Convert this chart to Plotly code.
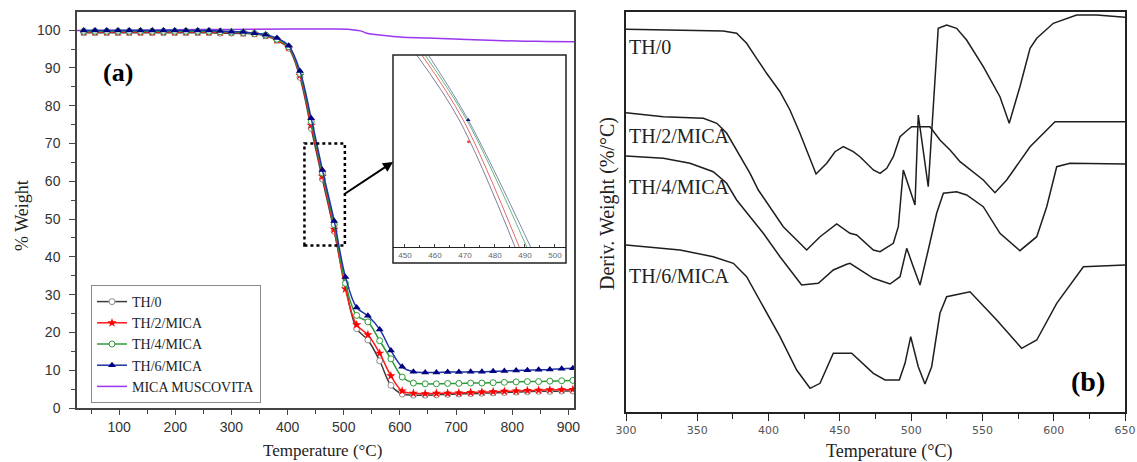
import plotly.graph_objects as go

W, H = 1137, 462
def px(x): return x / W
def py(y): return 1 - y / H

# ---------------- Panel (a): TGA ----------------
temp_a = [37, 57, 78, 98, 118, 138, 159, 179, 199, 219, 240, 260, 280, 300, 321, 341, 361, 381,
          402, 422, 442, 462, 483, 503, 523, 543, 564, 584, 604, 624, 645, 665, 685, 705, 726,
          746, 766, 786, 807, 827, 847, 867, 888, 908]
th0 = [99.3, 99.3, 99.3, 99.3, 99.3, 99.3, 99.3, 99.3, 99.3, 99.3, 99.3, 99.3, 99.2, 99.2, 99.1,
       99.0, 98.5, 97.3, 95.2, 87.5, 74.0, 60.6, 46.8, 32.2, 21.0, 18.0, 12.5, 6.0, 3.7, 3.4, 3.4,
       3.5, 3.6, 3.7, 3.8, 3.9, 4.0, 4.1, 4.2, 4.3, 4.4, 4.4, 4.5, 4.5]
th2 = [99.5, 99.5, 99.5, 99.5, 99.5, 99.5, 99.5, 99.5, 99.5, 99.5, 99.5, 99.5, 99.4, 99.4, 99.3,
       99.1, 98.6, 97.4, 95.4, 88.0, 74.8, 61.3, 47.3, 31.5, 22.0, 19.4, 14.5, 8.5, 4.5, 3.9, 3.8,
       3.9, 3.9, 4.0, 4.1, 4.2, 4.3, 4.4, 4.5, 4.6, 4.7, 4.8, 4.8, 4.9]
th4 = [99.7, 99.7, 99.7, 99.7, 99.7, 99.7, 99.7, 99.7, 99.7, 99.7, 99.7, 99.7, 99.6, 99.5, 99.4,
       99.1, 98.7, 97.6, 95.6, 88.5, 75.8, 62.2, 48.5, 33.0, 24.5, 22.8, 17.8, 13.0, 8.2, 6.6, 6.4,
       6.4, 6.5, 6.5, 6.6, 6.6, 6.7, 6.8, 6.9, 7.0, 7.0, 7.1, 7.2, 7.3]
th6 = [99.9, 99.9, 99.9, 99.9, 99.9, 99.9, 99.9, 99.9, 99.9, 99.9, 99.9, 99.9, 99.8, 99.6, 99.5,
       99.2, 98.8, 97.9, 95.9, 89.2, 76.7, 63.0, 49.5, 34.7, 26.6, 24.4, 20.8, 15.2, 10.9, 9.6, 9.4,
       9.4, 9.5, 9.5, 9.6, 9.6, 9.7, 9.8, 9.9, 10.0, 10.1, 10.2, 10.4, 10.5]
temp_mica = [25, 100, 200, 300, 400, 480, 511, 530, 541, 552, 565, 600, 650, 719, 808, 860, 910]
mica = [99.9, 100.0, 100.1, 100.2, 100.3, 100.3, 100.2, 99.8, 99.2, 98.9, 98.7, 98.2, 97.9,
        97.5, 97.1, 97.0, 96.9]

# inset (zoom of 446-504 degC)
inset_v = [66, 58.55, 44]
inset_t0 = [453.9, 468.1, 486.7]
inset_t2 = [455.6, 469.4, 488.1]
inset_t4 = [456.7, 470.6, 490.6]
inset_t6 = [457.8, 471.1, 491.9]

# ---------------- Panel (b): DTG (arbitrary offset units) ----------------
tA = [300, 337.9, 368.2, 377.6, 384.6, 391.6, 398.6, 408.0, 415.0, 422.0, 429.1, 433.3, 440.8,
      446.6, 452.4, 459.4, 464.1, 473.5, 478.2, 482.9, 487.5, 492.2, 496.9, 500.4, 513.2, 520.2,
      527.3, 534.3, 550.6, 558.8, 567.0, 583.4, 600.9, 650]
vA = [382.7, 382, 381, 378.7, 368.7, 353.7, 338.7, 320.3, 302, 278.7, 252, 238, 248.7, 260.3,
      265.3, 260.3, 255.3, 242, 238.7, 243.7, 255.3, 275.3, 281.3, 285.3, 285.3, 272, 262, 250.3,
      232, 219.3, 232, 265.3, 290.3, 290.3]
tB = [300, 326.2, 354.3, 363.7, 370.7, 377.6, 387.0, 392.8, 401.0, 410.3, 419.7, 426.7, 436.1,
      447.8, 457.1, 461.8, 473.5, 478.2, 487.5, 491.0, 494.5, 502.7, 505.0, 512.0, 519.0, 524.9,
      531.9, 538.9, 550.6, 562.3, 568.8, 576.3, 583.4, 588.1, 599.7, 616.1, 630.1, 650]
vB = [299.3, 295.3, 293.7, 288.7, 278.7, 262, 238.7, 222, 205.3, 185.3, 172, 162, 175.3, 188,
      178.7, 177, 162, 160.3, 168.7, 185.3, 242, 207, 297, 225.3, 383.7, 387, 383.7, 372, 345.3,
      315.3, 288.7, 325.3, 363.7, 373.7, 388.7, 397, 397, 394.7]
tC = [300, 326.2, 344.9, 361.2, 370.6, 377.6, 387.0, 396.3, 408.0, 417.3, 423.2, 434.9, 445.4,
      454.8, 457.1, 473.5, 485.2, 492.2, 496.9, 501.5, 506.2, 512.0, 517.9, 522.6, 531.9, 538.9,
      550.6, 562.3, 576.3, 588.1, 595.1, 602.1, 611.4, 650]
vC = [256, 253.7, 248.7, 240.3, 228.7, 212, 195.3, 178.7, 155.3, 138.7, 127, 128.7, 142, 147.7,
      148.7, 133.7, 128, 135.3, 163.7, 145.3, 127, 162, 198.7, 218.7, 220.3, 217, 205.3, 178.7,
      161.3, 175.3, 205.3, 245.3, 248.7, 248]
tD = [300, 337.9, 361.2, 375.3, 384.6, 396.3, 408.0, 419.7, 429.1, 436.1, 445.4, 452.4, 458.3,
      473.5, 481.7, 491.7, 495.7, 499.7, 505.0, 509.7, 514.4, 520.2, 524.9, 541.3, 560.0, 577.5,
      588.1, 602.1, 620.8, 650]
vD = [167, 162, 155.3, 148.7, 135.3, 105.3, 75.3, 42, 23.7, 28.7, 58.7, 58.7, 58.7, 38.7, 32, 32,
      48.7, 75.3, 45.3, 28, 45.3, 98.7, 115.3, 120.3, 92, 63.7, 72, 108.7, 145.3, 147]

SERIF = "Liberation Serif"
SANS = "Liberation Sans"

fig = go.Figure()

# Panel (a) traces
fig.add_trace(go.Scatter(x=temp_mica, y=mica, mode="lines", name="MICA MUSCOVITA",
                         line=dict(color="#9a36f0", width=1.5, shape="spline"), legendrank=5))
fig.add_trace(go.Scatter(x=temp_a, y=th0, mode="lines+markers", name="TH/0", legendrank=1,
                         line=dict(color="#3c3c3c", width=1.5, shape="spline"),
                         marker=dict(symbol="circle", size=6, color="white",
                                     line=dict(color="#8c8c8c", width=1))))
fig.add_trace(go.Scatter(x=temp_a, y=th2, mode="lines+markers", name="TH/2/MICA", legendrank=2,
                         line=dict(color="#ff1a1a", width=1.5, shape="spline"),
                         marker=dict(symbol="star", size=7, color="#ff0000",
                                     line=dict(color="#ff0000", width=0))))
fig.add_trace(go.Scatter(x=temp_a, y=th4, mode="lines+markers", name="TH/4/MICA", legendrank=3,
                         line=dict(color="#2e9a3a", width=1.5, shape="spline"),
                         marker=dict(symbol="circle", size=6, color="white",
                                     line=dict(color="#2e9a3a", width=1))))
fig.add_trace(go.Scatter(x=temp_a, y=th6, mode="lines+markers", name="TH/6/MICA", legendrank=4,
                         line=dict(color="#1f35a5", width=1.5, shape="spline"),
                         marker=dict(symbol="triangle-up", size=7, color="#000080")))

# Inset traces
inset_cols = ["#80809a", "#e86a6a", "#6fb47f", "#7a8cae"]
for tt, c in zip([inset_t0, inset_t2, inset_t4, inset_t6], inset_cols):
    fig.add_trace(go.Scatter(x=tt, y=inset_v, mode="lines", showlegend=False,
                             line=dict(color=c, width=1, shape="spline"),
                             xaxis="x3", yaxis="y3"))
fig.add_trace(go.Scatter(x=[inset_t6[1]], y=[inset_v[1]], mode="markers", showlegend=False,
                         marker=dict(symbol="triangle-up", size=4, color="#000080"),
                         xaxis="x3", yaxis="y3"))
fig.add_trace(go.Scatter(x=[inset_t2[1] + 1.8], y=[inset_v[1] - 2.5], mode="markers",
                         showlegend=False, marker=dict(symbol="circle", size=3, color="#ff4040"),
                         xaxis="x3", yaxis="y3"))

# Panel (b) traces
for tt, vv in [(tA, vA), (tB, vB), (tC, vC), (tD, vD)]:
    fig.add_trace(go.Scatter(x=tt, y=vv, mode="lines", showlegend=False,
                             line=dict(color="#1e1e1e", width=1.5),
                             xaxis="x2", yaxis="y2"))

axis_common = dict(showgrid=False, zeroline=False, showline=True, mirror=True)

fig.update_layout(
    width=W, height=H, margin=dict(l=0, r=0, t=0, b=0),
    template="none", paper_bgcolor="white", plot_bgcolor="white",
    xaxis=dict(domain=[px(77), px(574)], range=[25, 910], anchor="y", **axis_common,
               linecolor="#444", linewidth=1.5, ticks="outside", ticklen=5, tickcolor="#444",
               tick0=0, dtick=100,
               minor=dict(dtick=50, ticks="outside", ticklen=4, tickcolor="#444"),
               tickfont=dict(family=SANS, size=14, color="#333")),
    yaxis=dict(domain=[py(408), py(12)], range=[0, 104.8], anchor="x", **axis_common,
               linecolor="#444", linewidth=1.5, ticks="outside", ticklen=6, tickcolor="#444",
               tick0=0, dtick=10, ticklabelstandoff=6,
               minor=dict(dtick=5, ticks="outside", ticklen=4, tickcolor="#444"),
               tickfont=dict(family=SANS, size=14, color="#333")),
    xaxis2=dict(domain=[px(626), px(1125)], range=[300, 650], anchor="y2", **axis_common,
                linecolor="#222", linewidth=1.5, ticks="outside", ticklen=7, tickcolor="#222",
                tick0=300, dtick=50,
                minor=dict(dtick=25, ticks="outside", ticklen=5, tickcolor="#222"),
                tickfont=dict(family="DejaVu Sans", size=11, color="#555")),
    yaxis2=dict(domain=[py(412), py(12)], range=[0, 400], anchor="x2", **axis_common,
                linecolor="#222", linewidth=1.5, ticks="", showticklabels=False),
    xaxis3=dict(domain=[px(393), px(566)], range=[446, 503.7], anchor="y3", showgrid=False,
                zeroline=False, showline=True, linecolor="#222", linewidth=1, ticks="inside",
                ticklen=3, tickcolor="#444", tick0=450, dtick=10,
                minor=dict(dtick=5, ticks="inside", ticklen=2, tickcolor="#444"),
                tickfont=dict(family=SANS, size=8, color="#666")),
    yaxis3=dict(domain=[py(247), py(55)], range=[44, 66], anchor="x3", visible=False),
    legend=dict(x=px(91), y=py(285), xanchor="left", yanchor="top", bgcolor="white",
                bordercolor="#8a8a8a", borderwidth=1, tracegroupgap=0,
                font=dict(family=SERIF, size=14, color="#222")),
    showlegend=True,
)

shapes = [
    dict(type="rect", xref="x", yref="y", x0=430, x1=502, y0=43, y1=70,
         line=dict(color="black", width=2.5, dash="dot")),
    dict(type="rect", xref="paper", yref="paper", x0=px(393), x1=px(566), y0=py(263), y1=py(55),
         line=dict(color="#222", width=1.5), fillcolor="rgba(0,0,0,0)"),
]
fig.update_layout(shapes=shapes)

def label(x, y, text, size, angle=0, xanchor="center", color="#222"):
    return dict(x=px(x), y=py(y), xref="paper", yref="paper", text=text, textangle=angle,
                showarrow=False, xanchor=xanchor, yanchor="middle",
                font=dict(family=SERIF, size=size, color=color))

ann = [
    dict(x=px(393), y=py(162), xref="paper", yref="paper", text="", showarrow=True,
         ax=-50, ay=33, arrowhead=2, arrowsize=1, arrowwidth=2, arrowcolor="black"),
    label(118, 72, "<b>(a)</b>", 26, color="black"),
    label(1088, 381, "<b>(b)</b>", 28, color="black"),
    label(22, 216, "% Weight", 18, angle=-90),
    label(322, 450, "Temperature (°C)", 17),
    label(889, 451, "Temperature (°C)", 18),
    label(608, 204, "Deriv. Weight (%/°C)", 20, angle=-90),
]
for txt, yy in [("TH/0", 47), ("TH/2/MICA", 136), ("TH/4/MICA", 187), ("TH/6/MICA", 276)]:
    ann.append(label(627, yy, txt, 20, xanchor="left"))
fig.update_layout(annotations=ann)

fig.write_html("out.html", config={"displayModeBar": False},
               post_script="document.body.style.margin='0px';")
